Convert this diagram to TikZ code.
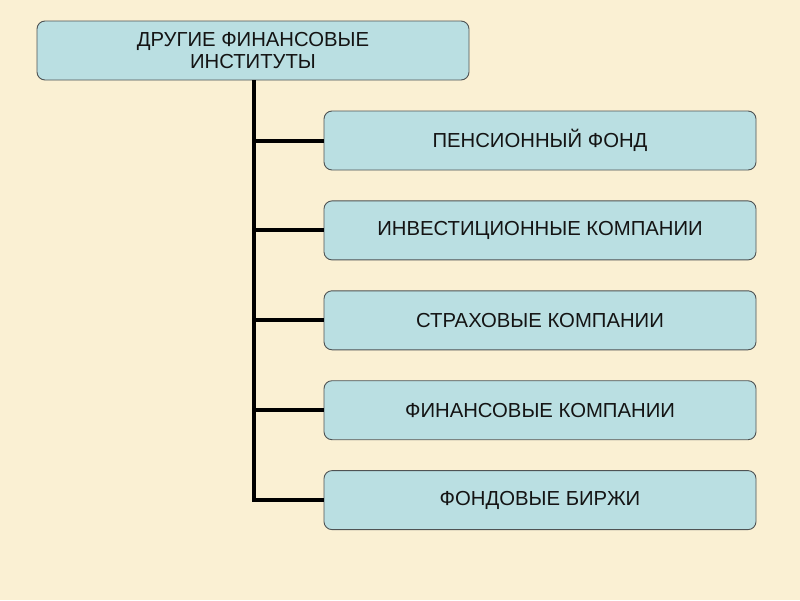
\documentclass[tikz,border=0pt]{standalone}
\usepackage{fontspec}
\setmainfont{Liberation Sans}
\usetikzlibrary{positioning}
\definecolor{paperBeige}{HTML}{FAF0D3}
\definecolor{boxBlue}{HTML}{BADFE2}
\definecolor{boxLine}{HTML}{4F5354}
\definecolor{textDark}{HTML}{141414}
\tikzset{
    instbox/.style={draw=boxLine,fill=boxBlue,rounded corners=8pt,line width=0.9pt,
        minimum width=432pt,minimum height=59pt,align=center,text=textDark,
        font=\fontsize{20.3}{22}\selectfont},
    branch/.style={draw=black,line width=4pt}
}
\begin{document}
\begin{tikzpicture}[x=1pt,y=-1pt,node distance=30pt and 30pt]
    \fill[paperBeige] (0,0) rectangle (800,600);
    \useasboundingbox (0,0) rectangle (800,600);
    \node[instbox] (inst) at (253,50.5) {ДРУГИЕ ФИНАНСОВЫЕ\\ИНСТИТУТЫ};
    \node[instbox] (pens) at (540,140.5) {ПЕНСИОННЫЙ ФОНД};
    \node[instbox] (invest) [below=of pens] {ИНВЕСТИЦИОННЫЕ КОМПАНИИ};
    \node[instbox] (strah) [below=of invest] {СТРАХОВЫЕ КОМПАНИИ};
    \node[instbox] (fincomp) [below=of strah] {ФИНАНСОВЫЕ КОМПАНИИ};
    \node[instbox] (birzhi) [below=of fincomp] {ФОНДОВЫЕ БИРЖИ};
    \coordinate (trunk) at ([xshift=1pt]inst.south);
    \draw[branch] (trunk) |- (birzhi.west);
    \draw[branch] (trunk |- pens.west) -- (pens.west);
    \draw[branch] (trunk |- invest.west) -- (invest.west);
    \draw[branch] (trunk |- strah.west) -- (strah.west);
    \draw[branch] (trunk |- fincomp.west) -- (fincomp.west);
\end{tikzpicture}
\end{document}
